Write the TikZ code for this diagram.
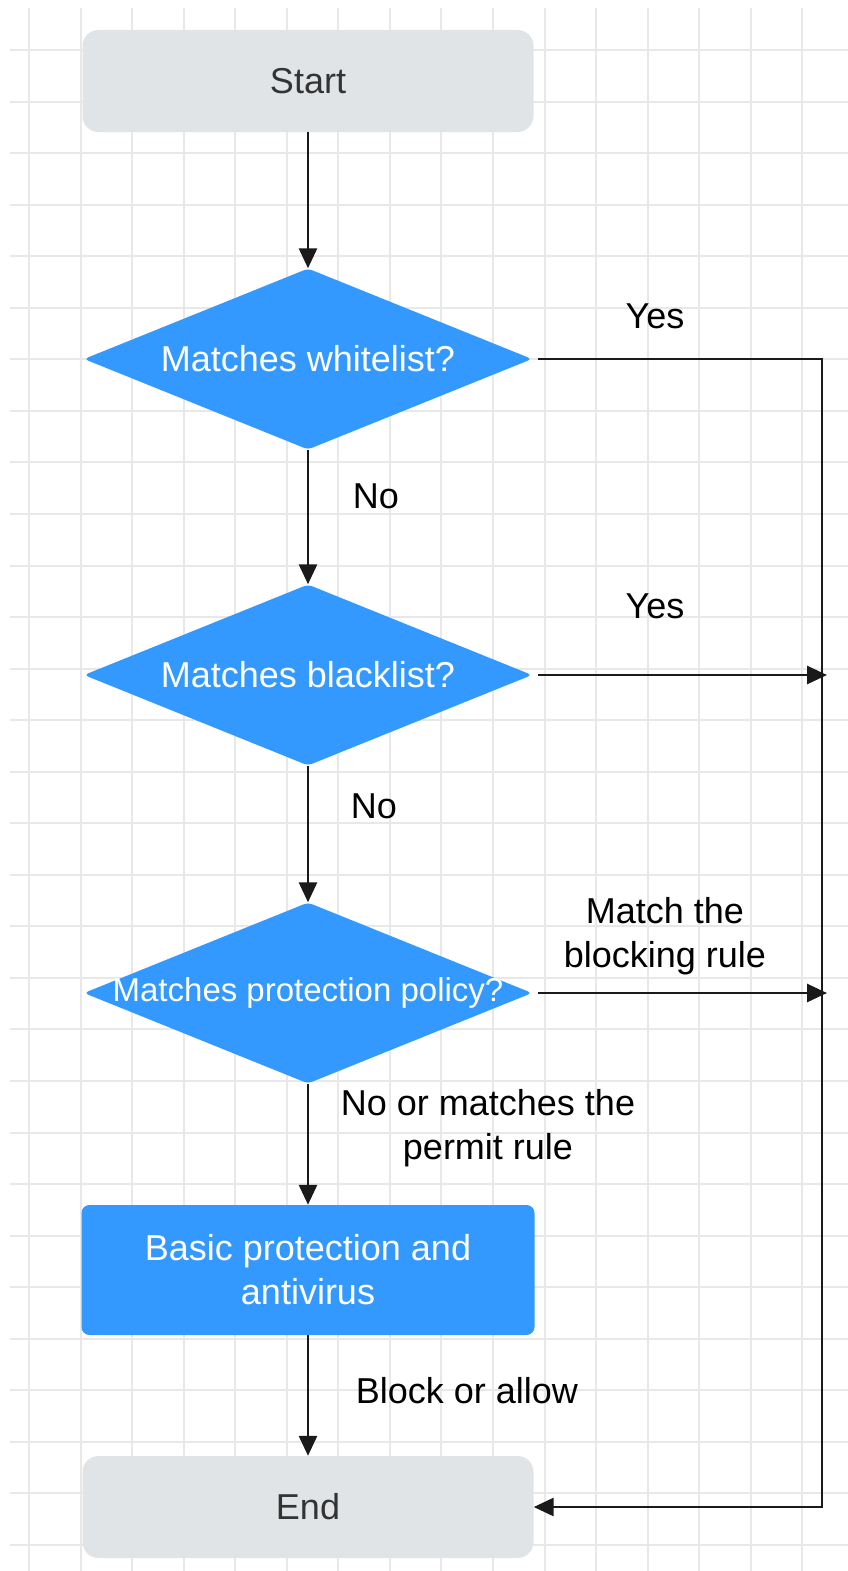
\documentclass[tikz,border=0pt]{standalone}
\usepackage{fontspec}
\setmainfont{Liberation Sans}
\usetikzlibrary{shapes.geometric,arrows.meta}
\definecolor{flowblue}{HTML}{3399FF}
\definecolor{termgray}{HTML}{E1E4E6}
\definecolor{gridline}{HTML}{E8E8E8}
\definecolor{termtext}{HTML}{333333}
\definecolor{linecol}{HTML}{1A1A1A}
\begin{document}
\begin{tikzpicture}[x=1pt,y=-1pt,
  gridstyle/.style={draw=gridline, line width=2pt},
  term/.style={draw=none, fill=termgray, rounded corners=16pt, minimum width=451pt, minimum height=102pt, inner sep=0pt, text=termtext, font=\fontsize{36}{44}\selectfont},
  proc/.style={draw=none, fill=flowblue, rounded corners=8pt, minimum width=453pt, minimum height=130pt, inner sep=0pt, text=white, align=center, font=\fontsize{36}{44}\selectfont},
  dia/.style={diamond, fill=flowblue, draw=none, minimum width=448pt, minimum height=181pt, inner sep=0pt, rounded corners=4pt},
  diatext/.style={text=white, font=\fontsize{36}{44}\selectfont},
  lbl/.style={font=\fontsize{36}{44}\selectfont, align=center, text=black, inner sep=0pt},
  conn/.style={line width=2.8pt, draw=linecol, -{Triangle[length=20pt,width=18pt]}}
]
\useasboundingbox (0,0) rectangle (848,1571);
\fill[white] (0,0) rectangle (848,1571);
% grid
\foreach \i in {0,...,15} \draw[gridstyle] ({29+51.55*\i},8) -- ({29+51.55*\i},1571);
\foreach \j in {0,...,29} \draw[gridstyle] (10,{50+51.55*\j}) -- (848,{50+51.55*\j});

% nodes
\node (start) [term] at (308,81) {Start};
\node (d1) [dia, label={[diatext]center:Matches whitelist?}] at (308,359) {};
\node (d2) [dia, label={[diatext]center:Matches blacklist?}] at (308,675) {};
\node (d3) [dia, label={[text=white, font=\fontsize{33}{40}\selectfont]center:Matches protection policy?}] at (308,993) {};
\node (basic) [proc] at (308,1270) {Basic protection and\\antivirus};
\node (end) [term] at (308,1507) {End};

\coordinate (rtop) at (822,359);
\coordinate (r2) at (827,675);
\coordinate (r3) at (827,993);

% connectors
\draw[conn] (start) -- (d1);
\draw[conn] (d1) -- (d2);
\draw[conn] (d2) -- (d3);
\draw[conn] (d3) -- (basic);
\draw[conn] (basic) -- (end);
\draw[conn, shorten <=6pt] (d1.east) -- (rtop) |- (end.east);
\draw[conn, shorten <=6pt] (d2.east) -- (r2);
\draw[conn, shorten <=6pt] (d3.east) -- (r3);

% labels
\node (yes1) [lbl] at (655,316) {Yes};
\node (no1) [lbl] at (376,496) {No};
\node (yes2) [lbl] at (655,606) {Yes};
\node (no2) [lbl] at (374,806) {No};
\node (blk) [lbl] at (665,936) {Match the\\blocking rule};
\node (perm) [lbl] at (488,1128) {No or matches the\\permit rule};
\node (ba) [lbl] at (467,1391) {Block or allow};
\end{tikzpicture}
\end{document}
